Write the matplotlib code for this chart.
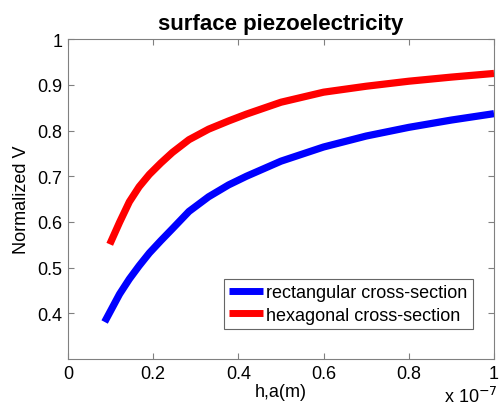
import matplotlib.pyplot as plt
from matplotlib.ticker import FuncFormatter

# Donnees (h en unites de 1e-7 m)
x_rect = [0.086, 0.121, 0.144, 0.167, 0.191, 0.218, 0.245, 0.284, 0.330, 0.377,
          0.419, 0.5, 0.6, 0.7, 0.8, 0.9, 1.0]
y_rect = [0.381, 0.442, 0.475, 0.504, 0.532, 0.559, 0.585, 0.623, 0.655, 0.681,
          0.700, 0.733, 0.764, 0.788, 0.807, 0.823, 0.837]

x_hex = [0.098, 0.121, 0.144, 0.167, 0.191, 0.218, 0.245, 0.284, 0.330, 0.377,
         0.419, 0.5, 0.6, 0.7, 0.8, 0.9, 1.0]
y_hex = [0.551, 0.599, 0.644, 0.677, 0.704, 0.729, 0.752, 0.780, 0.803, 0.821,
         0.836, 0.862, 0.884, 0.897, 0.908, 0.917, 0.925]

x_ticks = [0, 0.2, 0.4, 0.6, 0.8, 1.0]
y_ticks = [0.4, 0.5, 0.6, 0.7, 0.8, 0.9, 1.0]

plt.rcParams['font.family'] = ['Liberation Sans', 'DejaVu Sans']

fig = plt.figure(figsize=(5, 4.1), dpi=100)
ax = fig.add_axes([0.136, 0.122, 0.852, 0.78])

scale = 1e-7
ax.plot([v * scale for v in x_rect], y_rect, color='#0000ff', linewidth=5.2,
        solid_capstyle='butt', solid_joinstyle='round', label='rectangular cross-section')
ax.plot([v * scale for v in x_hex], y_hex, color='#ff0000', linewidth=5.2,
        solid_capstyle='butt', solid_joinstyle='round', label='hexagonal cross-section')

ax.set_xlim(0, 1e-7)
ax.set_ylim(0.3, 1.0)
ax.set_xticks([v * scale for v in x_ticks])
ax.set_yticks(y_ticks)
ax.xaxis.set_major_formatter(FuncFormatter(lambda v, p: f"{v / scale:g}"))
ax.yaxis.set_major_formatter(FuncFormatter(lambda v, p: f"{v:g}"))
ax.tick_params(direction='in', top=True, right=True, labelsize=13, length=4,
               color='#808080', pad=4)
for s in ax.spines.values():
    s.set_color('#808080')

ax.set_title('surface piezoelectricity', fontsize=16, fontweight='bold', pad=7)
ax.set_xlabel('h,a(m)', fontsize=13, labelpad=1)
ax.set_ylabel('Normalized V', fontsize=13, labelpad=5)
fig.text(0.996, 0.008, r'x 10$^{-7}$', ha='right', va='bottom', fontsize=13)

leg = ax.legend(loc='lower right', fontsize=13, frameon=True, fancybox=False,
                handlelength=1.9, handletextpad=0.15, borderpad=0.3,
                labelspacing=0.3, borderaxespad=0,
                bbox_to_anchor=(0.95, 0.094))
leg.get_frame().set_edgecolor('#404040')
leg.get_frame().set_linewidth(0.8)
for line in leg.get_lines():
    line.set_linewidth(5)

fig.savefig('out.png', dpi=100)
